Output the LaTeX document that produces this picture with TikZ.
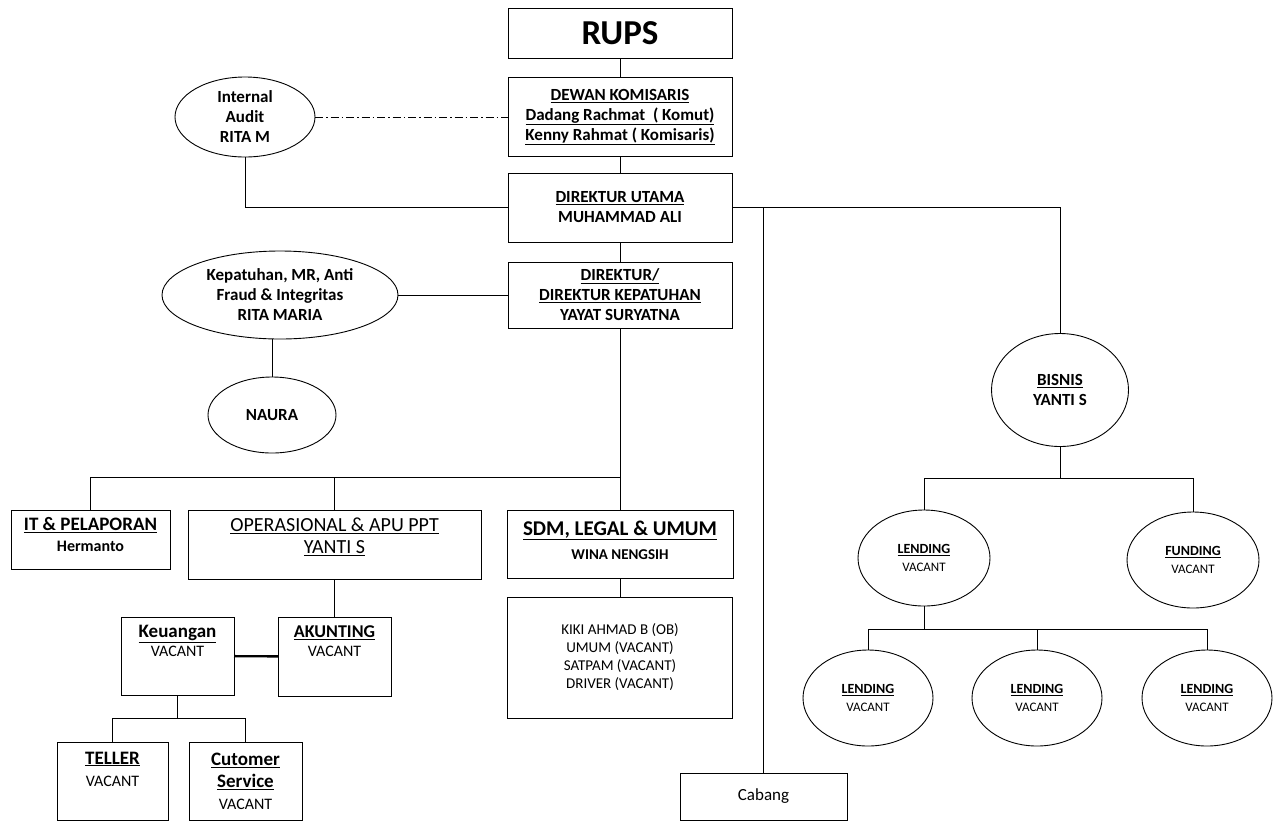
\documentclass[tikz,border=0pt]{standalone}
\usepackage{fontspec}
\setmainfont{Carlito}
\usepackage{tikz}
\usetikzlibrary{positioning, shapes.geometric}
\newcommand{\fsz}[2]{\fontsize{#1}{#2}\selectfont}
\newcommand{\lift}[1]{\rule[-#1]{0pt}{#1}}
\tikzset{
		unit/.style={
			rectangle,
			draw=black,
			align=center,
			inner sep=0pt,
			outer sep=0pt,
			line width=0.9pt
		},
		oval/.style={
			ellipse,
			draw=black,
			align=center,
			inner sep=-4pt,
			outer sep=0pt,
			line width=0.9pt
		},
		link/.style={line width=1pt},
		audit link/.style={line width=0.9pt, dash pattern=on 8pt off 3pt on 1.5pt off 3pt},
		hold link/.style={line width=2.4pt}
	}
\begin{document}
\begin{tikzpicture}[x=1pt, y=-1pt]
		\useasboundingbox (0,0) rectangle (1274,823);
		\node[unit, minimum width=224pt, minimum height=50pt, font=\bfseries\fsz{35}{40}] (rups) at (620,33) {RUPS};
		\node[unit, minimum width=224pt, minimum height=79pt, font=\bfseries\fsz{17}{20}] (kom) at (620,117)
			{\underline{DEWAN KOMISARIS}\\ \underline{Dadang Rachmat\ \ ( Komut)}\\ \underline{Kenny Rahmat ( Komisaris)}};
		\node[unit, minimum width=224pt, minimum height=69pt, font=\bfseries\fsz{17}{20}] (dirut) at (620,207.5)
			{\underline{DIREKTUR UTAMA}\\ MUHAMMAD ALI};
		\node[unit, minimum width=224pt, minimum height=66pt, font=\bfseries\fsz{17}{20}] (dirkep) at (620,295)
			{\underline{DIREKTUR/}\\ \underline{DIREKTUR KEPATUHAN}\\ YAYAT SURYATNA};
		\node[oval, minimum width=140pt, minimum height=80pt, font=\bfseries\fsz{17}{20}] (audit) at (245,117)
			{Internal\\ Audit\\ RITA M};
		\node[oval, minimum width=236pt, minimum height=88pt, font=\bfseries\fsz{17}{20}] (kep) at (280,295)
			{Kepatuhan, MR, Anti\\ Fraud \& Integritas\\ RITA MARIA};
		\node[oval, minimum width=128pt, minimum height=76pt, font=\bfseries\fsz{17}{20}] (naura) at (272,415) {NAURA};
		\node[unit, minimum width=159pt, minimum height=59pt, font=\bfseries\fsz{19}{21}] (itlap) at (90.5,539.5)
			{\underline{IT \& PELAPORAN}\\ {\fsz{16}{21}Hermanto}\lift{10pt}};
		\node[unit, minimum width=293pt, minimum height=69pt, font=\fsz{20}{22}] (ops) at (334.5,544.5)
			{\underline{OPERASIONAL \& APU PPT}\\ \underline{YANTI S}\lift{18pt}};
		\node[unit, minimum width=226pt, minimum height=68pt, font=\bfseries\fsz{21}{24}] (sdm) at (620,544)
			{\underline{SDM, LEGAL \& UMUM}\\ {\fsz{15}{24}WINA NENGSIH}\lift{8pt}};
		\node[unit, minimum width=225pt, minimum height=121pt, font=\fsz{15}{18}] (staf) at (620,657.5)
			{KIKI AHMAD B (OB)\\ UMUM (VACANT)\\ SATPAM (VACANT)\\ DRIVER (VACANT)};
		\node[unit, minimum width=113pt, minimum height=78pt, font=\bfseries\fsz{19}{19}] (keu) at (177.5,656)
			{\underline{Keuangan}\\ {\mdseries\fsz{16}{19}VACANT}\lift{30pt}};
		\node[unit, minimum width=113pt, minimum height=79pt, font=\bfseries\fsz{18}{19}] (akun) at (334.5,656.5)
			{\underline{AKUNTING}\\ {\mdseries\fsz{16}{19}VACANT}\lift{30pt}};
		\node[unit, minimum width=111pt, minimum height=78pt, font=\bfseries\fsz{19}{22}] (tel) at (112.5,781)
			{\underline{TELLER}\\ {\mdseries\fsz{16}{22}VACANT}\lift{24pt}};
		\node[unit, minimum width=113pt, minimum height=78pt, font=\bfseries\fsz{19}{22}] (cs) at (245.5,781)
			{\underline{Cutomer}\\ \underline{Service}\\ {\mdseries\fsz{16}{22}VACANT}};
		\node[unit, minimum width=167pt, minimum height=47pt, font=\fsz{17}{20}] (cab) at (763.5,796.5) {Cabang};
		\node[oval, minimum width=137pt, minimum height=113pt, font=\bfseries\fsz{17}{20}] (bis) at (1060,390)
			{\underline{BISNIS}\\ YANTI S};
		\node[oval, minimum width=132pt, minimum height=96pt, font=\bfseries\fsz{14}{18}] (lend) at (924,558)
			{\underline{LENDING}\\ {\mdseries\fsz{13}{18}VACANT}};
		\node[oval, minimum width=132pt, minimum height=96pt, font=\bfseries\fsz{14}{18}] (fund) at (1193,560)
			{\underline{FUNDING}\\ {\mdseries\fsz{13}{18}VACANT}};
		\node[oval, minimum width=130pt, minimum height=96pt, font=\bfseries\fsz{14}{18}] (lendA) at (868,698)
			{\underline{LENDING}\\ {\mdseries\fsz{13}{18}VACANT}};
		\node[oval, minimum width=130pt, minimum height=96pt, font=\bfseries\fsz{14}{18}] (lendB) at (1037,698)
			{\underline{LENDING}\\ {\mdseries\fsz{13}{18}VACANT}};
		\node[oval, minimum width=130pt, minimum height=96pt, font=\bfseries\fsz{14}{18}] (lendC) at (1207,698)
			{\underline{LENDING}\\ {\mdseries\fsz{13}{18}VACANT}};
		\coordinate (opsbus) at (620,477);
		\coordinate (keubus) at (177.5,718);
		\coordinate (bisbus) at (1060,478);
		\coordinate (lendbus) at (924,629);
		%lines:
		\draw[link] (rups) -- (kom);
		\draw[link] (kom) -- (dirut);
		\draw[link] (dirut) -- (dirkep);
		\draw[audit link] (audit) -- (kom);
		\draw[link] (audit.south) |- (dirut.west);
		\draw[link] (kep) -- (dirkep);
		\draw[link] (naura.north) -- (naura.north |- kep.south);
		\draw[link] (dirkep) -- (sdm);
		\draw[link] (itlap.north) |- (opsbus);
		\draw[link] (ops.north) -- (ops.north |- opsbus);
		\draw[link] (sdm) -- (staf);
		\draw[link] (ops) -- (akun);
		\draw[hold link] (keu) -- (akun);
		\draw[link] (keu) -- (keubus);
		\draw[link] (tel.north) |- (keubus) -| (cs.north);
		\draw[link] (dirut.east) -| (bis.north);
		\draw[link] (cab.north) -- (cab.north |- dirut.east);
		\draw[link] (bis) -- (bisbus);
		\draw[link] (lend.north) |- (bisbus) -| (fund.north);
		\draw[link] (lend) -- (lendbus);
		\draw[link] (lendA.north) |- (lendbus) -| (lendC.north);
		\draw[link] (lendB.north) -- (lendB.north |- lendbus);
	\end{tikzpicture}
\end{document}
